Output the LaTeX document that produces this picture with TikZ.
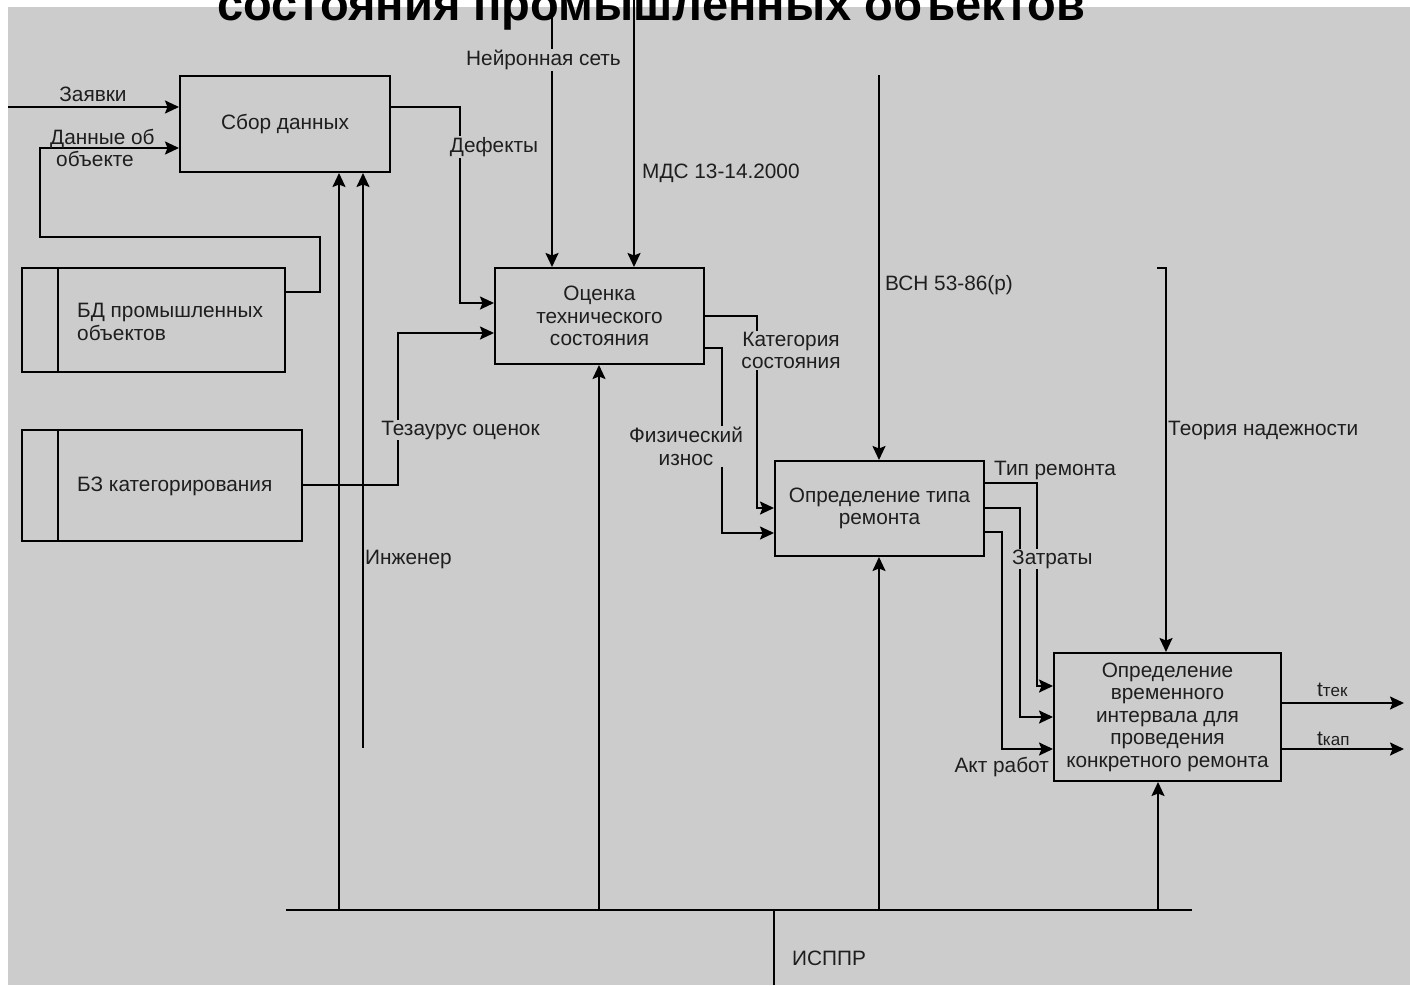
\documentclass[tikz,border=0pt]{standalone}
\usepackage{fontspec}
\setmainfont{Liberation Sans}
\usetikzlibrary{arrows.meta,calc}
\definecolor{bg}{RGB}{204,204,204}
\definecolor{ink}{RGB}{30,30,30}
\begin{document}
\begin{tikzpicture}[x=1pt,y=-1pt,
  every node/.style={font=\fontsize{20.8}{22.5}\selectfont, text=ink},
  box/.style={draw=black, line width=2pt, inner sep=0pt, align=center},
  conn/.style={line width=2pt, draw=black},
  arr/.style={conn, -{Stealth[length=14pt,width=13pt,inset=2.5pt]}},
  lbl/.style={fill=bg, inner sep=1pt, align=center},
  plain/.style={inner sep=1pt, align=center}]
\useasboundingbox (0,0) rectangle (1410,985);
\clip (0,0) rectangle (1410,985);
\fill[white] (0,0) rectangle (1410,985);
\fill[bg] (8,7) rectangle (1410,985);

% boxes
\node[box, minimum width=210pt, minimum height=96pt] (b1) at (285,124) {Сбор данных};
\node[box, minimum width=263pt, minimum height=104pt] (b2) at (153.5,320) {};
\draw[conn] (58,268) -- (58,372);
\node[plain, anchor=west, align=left] (t2) at (76,322) {БД промышленных\\объектов};
\node[box, minimum width=280pt, minimum height=111pt] (b3) at (162,485.5) {};
\draw[conn] (58,430) -- (58,541);
\node[plain, anchor=west] (t3) at (76,486) {БЗ категорирования};
\node[box, minimum width=209pt, minimum height=96pt] (b4) at (599.5,316) {Оценка\\технического\\состояния};
\node[box, minimum width=209pt, minimum height=95pt] (b5) at (879.5,508.5) {Определение типа\\ремонта};
\node[box, minimum width=227pt, minimum height=128pt] (b6) at (1167.5,717) {Определение\\временного\\интервала для\\проведения\\конкретного ремонта};

% helper coordinates
\coordinate (bus) at (0,910);
\coordinate (busL) at (286,910);
\coordinate (busR) at (1192,910);
\coordinate (zin) at (8,107);
\coordinate (d1) at (40,148);
\coordinate (bus1) at (339,910);
\coordinate (eng) at (363,748);
\coordinate (def) at (460,303);
\coordinate (tz) at (398,333);
\coordinate (tzs) at (302,485);
\coordinate (nn) at (552,12);
\coordinate (mds) at (634,0);
\coordinate (bus4) at (599,910);
\coordinate (kat) at (757,508);
\coordinate (fiz) at (722,533);
\coordinate (vsn) at (879,75);
\coordinate (bus5) at (879,910);
\coordinate (tip) at (1037,686);
\coordinate (zat) at (1020,717);
\coordinate (akt) at (1002,749);
\coordinate (ter) at (1157,268);
\coordinate (terc) at (1166,268);
\coordinate (bus6) at (1158,910);
\coordinate (o1) at (1404,703);
\coordinate (o2) at (1404,749);
\coordinate (isp) at (774,985);

% bus
\draw[conn] (busL) -- (busR);
\draw[conn] (isp) -- (isp |- bus);

% connectors
\draw[arr] (zin) -- (zin -| b1.west);
\draw[arr] ($(b2.north east)+(0,25)$) -| (320,237) -| (d1) -- (d1 -| b1.west);
\draw[arr] (bus1) -- (bus1 |- b1.south);
\draw[arr] (eng) -- (eng |- b1.south);
\draw[arr] ($(b1.north east)+(0,32)$) -| (def) -- (def -| b4.west);
\draw[arr] (tzs -| b3.east) -| (tz) -- (tz -| b4.west);
\draw[arr] (nn) -- (nn |- b4.north);
\draw[arr] (mds) -- (mds |- b4.north);
\draw[arr] (bus4) -- (bus4 |- b4.south);
\draw[arr] ($(b4.north east)+(0,49)$) -| (kat) -- (kat -| b5.west);
\draw[arr] ($(b4.north east)+(0,81)$) -| (fiz) -- (fiz -| b5.west);
\draw[arr] (vsn) -- (vsn |- b5.north);
\draw[arr] (bus5) -- (bus5 |- b5.south);
\draw[arr] ($(b5.north east)+(0,23)$) -| (tip) -- (tip -| b6.west);
\draw[arr] ($(b5.north east)+(0,48)$) -| (zat) -- (zat -| b6.west);
\draw[arr] ($(b5.north east)+(0,72)$) -| (akt) -- (akt -| b6.west);
\draw[arr] (ter) -- (terc) -- (terc |- b6.north);
\draw[arr] (bus6) -- (bus6 |- b6.south);
\draw[arr] (o1 -| b6.east) -- (o1);
\draw[arr] (o2 -| b6.east) -- (o2);

% labels
\node[plain] (lz) at (93,94) {Заявки};
\node[plain, anchor=west, align=left] (ld) at (49,148) {Данные об\\\hspace*{6pt}объекте};
\node[lbl] (ldef) at (494,147) {Дефекты};
\node[lbl] (ltz) at (460.5,430) {Тезаурус оценок};
\node[plain, anchor=west] (leng) at (364,559) {Инженер};
\node[lbl] (lnn) at (543.5,60) {Нейронная сеть};
\node[plain, anchor=west] (lmds) at (641,173) {МДС 13-14.2000};
\node[lbl] (lkat) at (791,350.5) {Категория\\состояния};
\node[lbl] (lfiz) at (686,446.5) {Физический\\износ};
\node[plain, anchor=west] (lvsn) at (884,285) {ВСН 53-86(р)};
\node[plain, anchor=west] (lter) at (1167,430) {Теория надежности};
\node[plain, anchor=west] (ltip) at (993,470) {Тип ремонта};
\node[lbl, anchor=west] (lzat) at (1011,559) {Затраты};
\node[plain, anchor=east] (lakt) at (1050,767) {Акт работ};
\node[plain, anchor=west] (lo1) at (1316,690) {t{\fontsize{17}{18}\selectfont тек}};
\node[plain, anchor=west] (lo2) at (1316,739) {t{\fontsize{17}{18}\selectfont кап}};
\node[plain, anchor=west] (lisp) at (791,958) {ИСППР};

% title (cut off at the top, as in the source)
\node[anchor=base, inner sep=0pt, text=black, font=\fontsize{47}{50}\selectfont\bfseries] (title) at (651.5,20) {состояния промышленных объектов};
\end{tikzpicture}
\end{document}
